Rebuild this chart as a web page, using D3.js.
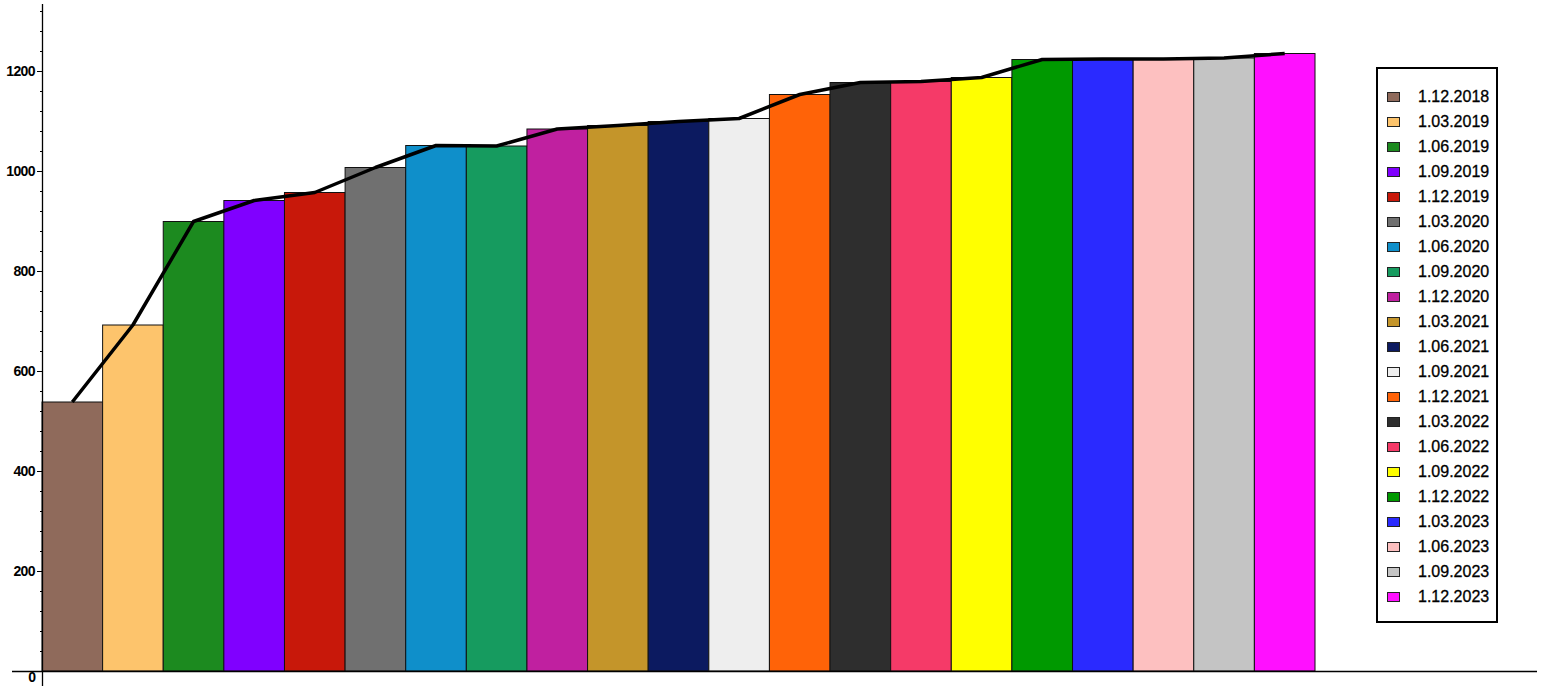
<!DOCTYPE html>
<html>
<head>
<meta charset="utf-8">
<script src="https://cdn.jsdelivr.net/npm/d3@7"></script>
<style>
  html, body { margin: 0; padding: 0; background: #fff; }
  svg { display: block; }
  text { font-family: Arial, "Liberation Sans", sans-serif; }
</style>
</head>
<body>
<svg id="chart" width="1542" height="688"></svg>
<script>
const categories = ["1.12.2018","1.03.2019","1.06.2019","1.09.2019","1.12.2019","1.03.2020","1.06.2020","1.09.2020","1.12.2020","1.03.2021","1.06.2021","1.09.2021","1.12.2021","1.03.2022","1.06.2022","1.09.2022","1.12.2022","1.03.2023","1.06.2023","1.09.2023","1.12.2023"];
const values = [538, 692, 899, 941, 957, 1007, 1051, 1050, 1084, 1091, 1099, 1105, 1153, 1177, 1179, 1187, 1223, 1224, 1224, 1226, 1235];
const colors = ["#8f6a5b","#fdc46c","#1c8a1f","#8000ff","#c8180a","#707070","#0f8fca","#169b5f","#c020a0","#c4952a","#0c1a60","#eeeeee","#ff6308","#2e2e2e","#f53a68","#ffff00","#009900","#2a2aff","#fdc0c0","#c4c4c4","#ff10ff"];
const majorTicks = [200, 400, 600, 800, 1000, 1200];
const minorTicks = d3.range(40, 1334, 40).filter(v => v % 200 !== 0);

const svg = d3.select("#chart");
const x = d3.scaleBand().domain(categories).range([42, 1315]).padding(0);
const y = d3.scaleLinear().domain([0, 1334]).range([671, 4]);
const color = d3.scaleOrdinal().domain(categories).range(colors);

// bars
svg.append("g").selectAll("rect").data(categories).join("rect")
  .attr("x", d => x(d))
  .attr("y", (d, i) => y(values[i]))
  .attr("width", x.bandwidth())
  .attr("height", (d, i) => y(0) - y(values[i]))
  .attr("fill", d => color(d))
  .attr("stroke", "#111")
  .attr("stroke-width", 1);

// line
const line = d3.line()
  .x((d, i) => x(categories[i]) + x.bandwidth() / 2)
  .y(d => y(d));
svg.append("path").datum(values)
  .attr("d", line)
  .attr("fill", "none")
  .attr("stroke", "#000")
  .attr("stroke-width", 3.5)
  .attr("stroke-linejoin", "round");

// axes
const gMajor = svg.append("g").attr("transform", "translate(42,0)")
  .call(d3.axisLeft(y).tickValues(majorTicks).tickSize(5).tickSizeOuter(0).tickPadding(2).tickFormat(d3.format("d")));
gMajor.select(".domain").remove();
gMajor.selectAll("text").attr("font-size", 14).attr("font-weight", "bold").attr("fill", "#000")
  .attr("letter-spacing", -0.6)
  .style("font-family", "Arial, 'Liberation Sans', sans-serif");
gMajor.selectAll("line").attr("stroke", "#000");

const gMinor = svg.append("g").attr("transform", "translate(42,0)")
  .call(d3.axisLeft(y).tickValues(minorTicks).tickSize(2).tickSizeOuter(0).tickFormat(""));
gMinor.select(".domain").remove();
gMinor.selectAll("line").attr("stroke", "#000");

// axis lines
svg.append("line").attr("x1", 42.5).attr("x2", 42.5).attr("y1", y(1334)).attr("y2", 686)
  .attr("stroke", "#000").attr("stroke-width", 1.3);
svg.append("line").attr("x1", 12).attr("x2", 1537).attr("y1", y(0) + 0.5).attr("y2", y(0) + 0.5)
  .attr("stroke", "#000").attr("stroke-width", 1.3);
svg.append("text").attr("x", 36).attr("y", 682).attr("text-anchor", "end")
  .attr("font-size", 14).attr("font-weight", "bold").text("0");

// legend
const legend = svg.append("g");
legend.append("rect").attr("x", 1377).attr("y", 68).attr("width", 120).attr("height", 554)
  .attr("fill", "#fff").attr("stroke", "#000").attr("stroke-width", 2);
const items = legend.selectAll("g.item").data(categories).join("g").attr("class", "item")
  .attr("transform", (d, i) => `translate(0, ${97 + i * 25})`);
items.append("rect").attr("x", 1387.5).attr("y", -4.5).attr("width", 12).attr("height", 9)
  .attr("fill", d => color(d)).attr("stroke", "#222").attr("stroke-width", 1);
items.append("text").attr("x", 1418).attr("y", -1).attr("dy", "0.36em")
  .attr("font-size", 16).attr("fill", "#000")
  .attr("stroke", "#000").attr("stroke-width", 0.3)
  .text(d => d);
</script>
</body>
</html>
